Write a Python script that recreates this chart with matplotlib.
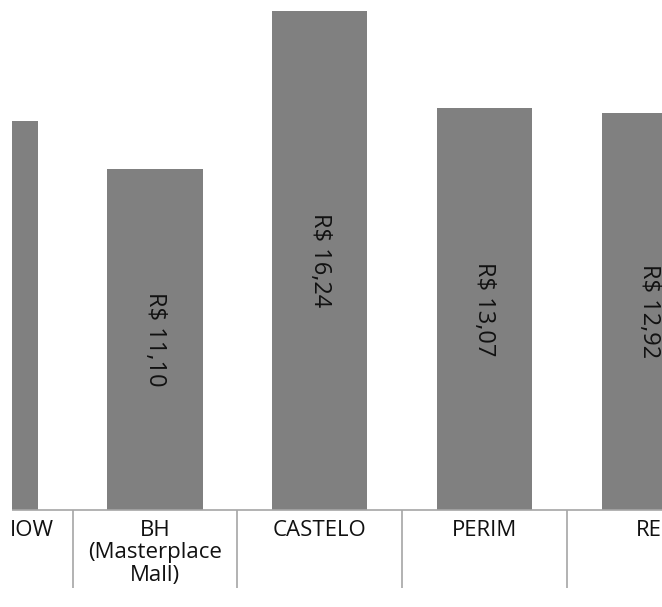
import matplotlib.pyplot as plt
from matplotlib.patches import Rectangle
import numpy as np

plt.rcParams['font.family'] = ['Open Sans', 'DejaVu Sans']

lojas = ["IOW", "BH\n(Masterplace\nMall)", "CASTELO", "PERIM", "RE"]
valores = [12.65, 11.10, 16.24, 13.07, 12.92]
rotulos = ["R$ 12,65", "R$ 11,10", "R$ 16,24", "R$ 13,07", "R$ 12,92"]

W, H = 662, 607
XMIN, XMAX = 0.132, 4.078

fig = plt.figure(figsize=(W / 100, H / 100), dpi=100)
ax = fig.add_axes([12 / W, (H - 510) / H, (W - 12) / W, 510 / H])

x = np.arange(len(lojas))
ax.bar(x, valores, width=0.577, color="#808080", zorder=2)

# value labels only for bars whose middle is inside the crop
for xi, v, r in zip(x, valores, rotulos):
    if XMIN < xi < XMAX:
        ax.text(xi, v / 2, r, rotation=270, ha="center", va="center",
                fontsize=17, color="#111111")

for s in ["top", "right", "left"]:
    ax.spines[s].set_visible(False)
ax.spines["bottom"].set_color("#a6a6a6")
ax.spines["bottom"].set_linewidth(1.2)
ax.set_yticks([])

ax.set_xticks(x[1:])
ax.set_xticklabels(lojas[1:], fontsize=16, color="#111111", linespacing=1.1)
ax.tick_params(axis="x", which="major", length=0, pad=7)
ax.set_xticks(x[:-1] + 0.5, minor=True)
ax.tick_params(axis="x", which="minor", length=56, width=1.2, color="#a6a6a6")

# limits after the ticks, so set_xticks does not widen them
ax.set_xlim(XMIN, XMAX)
ax.set_ylim(0, 16.59)

# first category label is cut by the crop: only its right end shows
ax.annotate(lojas[0], xy=(x[0], 0), xycoords=("data", "axes fraction"),
            xytext=(46, -7), textcoords="offset points",
            ha="right", va="top", fontsize=16, color="#111111",
            annotation_clip=False)

# white strip on the left edge of the crop
fig.add_artist(Rectangle((0, 0), 12 / W, 1, transform=fig.transFigure,
                         facecolor="white", edgecolor="none", zorder=10))

fig.savefig("out.png", dpi=100)
